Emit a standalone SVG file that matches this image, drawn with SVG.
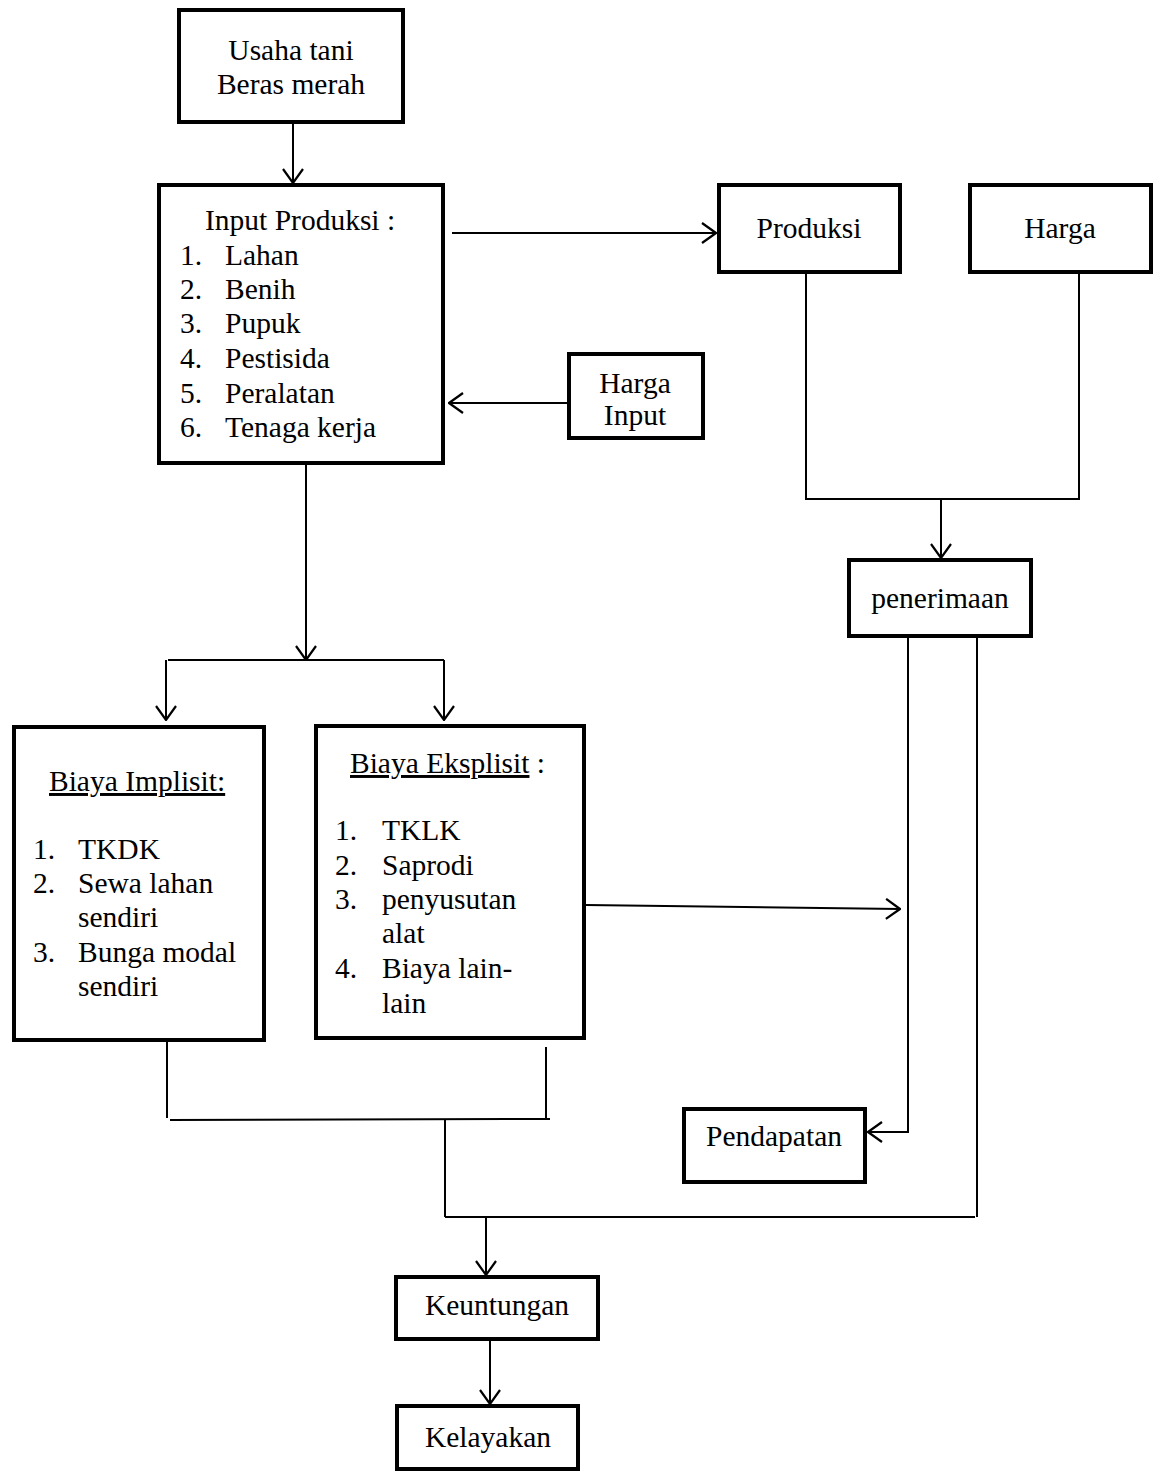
<svg xmlns="http://www.w3.org/2000/svg" width="1155" height="1477" viewBox="0 0 1155 1477">
<style>
.box{fill:#fff;stroke:#000;stroke-width:4;stroke-linejoin:miter}
.t{font-family:"Liberation Serif","Times New Roman",serif;font-size:29.5px;fill:#000}
.c{text-anchor:middle}
.ln{fill:none;stroke:#000;stroke-width:2}
.ar{marker-end:url(#ah)}
.u{text-decoration:underline}
</style>
<defs>
<marker id="ah" viewBox="0 0 16 22" refX="15" refY="11" markerWidth="16" markerHeight="22" markerUnits="userSpaceOnUse" orient="auto">
<path d="M1,1 L15,11 L1,21" fill="none" stroke="#000" stroke-width="2.2"/>
</marker>
</defs>
<rect width="1155" height="1477" fill="#fff"/>
<g id="connectors">
<line class="ln ar" x1="293" y1="124" x2="293" y2="183"/>
<line class="ln ar" x1="452" y1="233" x2="716" y2="233"/>
<line class="ln ar" x1="567" y1="403" x2="449" y2="403"/>
<polyline class="ln" points="806,274 806,499 1079,499 1079,274"/>
<line class="ln ar" x1="941" y1="499" x2="941" y2="558"/>
<line class="ln ar" x1="306" y1="465" x2="306" y2="660"/>
<line class="ln" x1="168" y1="660" x2="444" y2="660"/>
<line class="ln ar" x1="166" y1="660" x2="166" y2="720"/>
<line class="ln ar" x1="444" y1="660" x2="444" y2="720"/>
<line class="ln ar" x1="586" y1="905" x2="900" y2="909"/>
<polyline class="ln ar" points="908,638 908,1132 868,1132"/>
<line class="ln" x1="977" y1="638" x2="977" y2="1217"/>
<line class="ln" x1="167" y1="1042" x2="167" y2="1118"/>
<line class="ln" x1="546" y1="1047" x2="546" y2="1119"/>
<line class="ln" x1="170" y1="1120" x2="550" y2="1119"/>
<line class="ln" x1="445" y1="1120" x2="445" y2="1217"/>
<line class="ln" x1="445" y1="1217" x2="975" y2="1217"/>
<line class="ln ar" x1="486" y1="1217" x2="486" y2="1275"/>
<line class="ln ar" x1="490" y1="1341" x2="490" y2="1404"/>
</g>
<g id="usaha-tani">
<rect class="box" x="179" y="10" width="224" height="112"/>
<text class="t c" x="291" y="60">Usaha tani</text>
<text class="t c" x="291" y="94">Beras merah</text>
</g>
<g id="input-produksi">
<rect class="box" x="159" y="185" width="284" height="278"/>
<text class="t" x="205" y="230">Input Produksi :</text>
<text class="t" x="180" y="265">1.</text><text class="t" x="225" y="265">Lahan</text>
<text class="t" x="180" y="299">2.</text><text class="t" x="225" y="299">Benih</text>
<text class="t" x="180" y="333">3.</text><text class="t" x="225" y="333">Pupuk</text>
<text class="t" x="180" y="368">4.</text><text class="t" x="225" y="368">Pestisida</text>
<text class="t" x="180" y="403">5.</text><text class="t" x="225" y="403">Peralatan</text>
<text class="t" x="180" y="437">6.</text><text class="t" x="225" y="437">Tenaga kerja</text>
</g>
<g id="produksi">
<rect class="box" x="719" y="185" width="181" height="87"/>
<text class="t c" x="809" y="238">Produksi</text>
</g>
<g id="harga">
<rect class="box" x="970" y="185" width="181" height="87"/>
<text class="t c" x="1060" y="238">Harga</text>
</g>
<g id="harga-input">
<rect class="box" x="569" y="354" width="134" height="84"/>
<text class="t c" x="635" y="393">Harga</text>
<text class="t c" x="635" y="425">Input</text>
</g>
<g id="penerimaan">
<rect class="box" x="849" y="560" width="182" height="76"/>
<text class="t c" x="940" y="608">penerimaan</text>
</g>
<g id="biaya-implisit">
<rect class="box" x="14" y="727" width="250" height="313"/>
<text class="t u" x="49" y="791">Biaya Implisit:</text>
<text class="t" x="33" y="859">1.</text><text class="t" x="78" y="859">TKDK</text>
<text class="t" x="33" y="893">2.</text><text class="t" x="78" y="893">Sewa lahan</text>
<text class="t" x="78" y="927">sendiri</text>
<text class="t" x="33" y="962">3.</text><text class="t" x="78" y="962">Bunga modal</text>
<text class="t" x="78" y="996">sendiri</text>
</g>
<g id="biaya-eksplisit">
<rect class="box" x="316" y="726" width="268" height="312"/>
<text class="t" x="350" y="773"><tspan class="u">Biaya Eksplisit</tspan> :</text>
<text class="t" x="335" y="840">1.</text><text class="t" x="382" y="840">TKLK</text>
<text class="t" x="335" y="875">2.</text><text class="t" x="382" y="875">Saprodi</text>
<text class="t" x="335" y="909">3.</text><text class="t" x="382" y="909">penyusutan</text>
<text class="t" x="382" y="943">alat</text>
<text class="t" x="335" y="978">4.</text><text class="t" x="382" y="978">Biaya lain-</text>
<text class="t" x="382" y="1013">lain</text>
</g>
<g id="pendapatan">
<rect class="box" x="684" y="1109" width="181" height="73"/>
<text class="t c" x="774" y="1146">Pendapatan</text>
</g>
<g id="keuntungan">
<rect class="box" x="396" y="1277" width="202" height="62"/>
<text class="t c" x="497" y="1315">Keuntungan</text>
</g>
<g id="kelayakan">
<rect class="box" x="397" y="1406" width="181" height="63"/>
<text class="t c" x="488" y="1447">Kelayakan</text>
</g>
</svg>
